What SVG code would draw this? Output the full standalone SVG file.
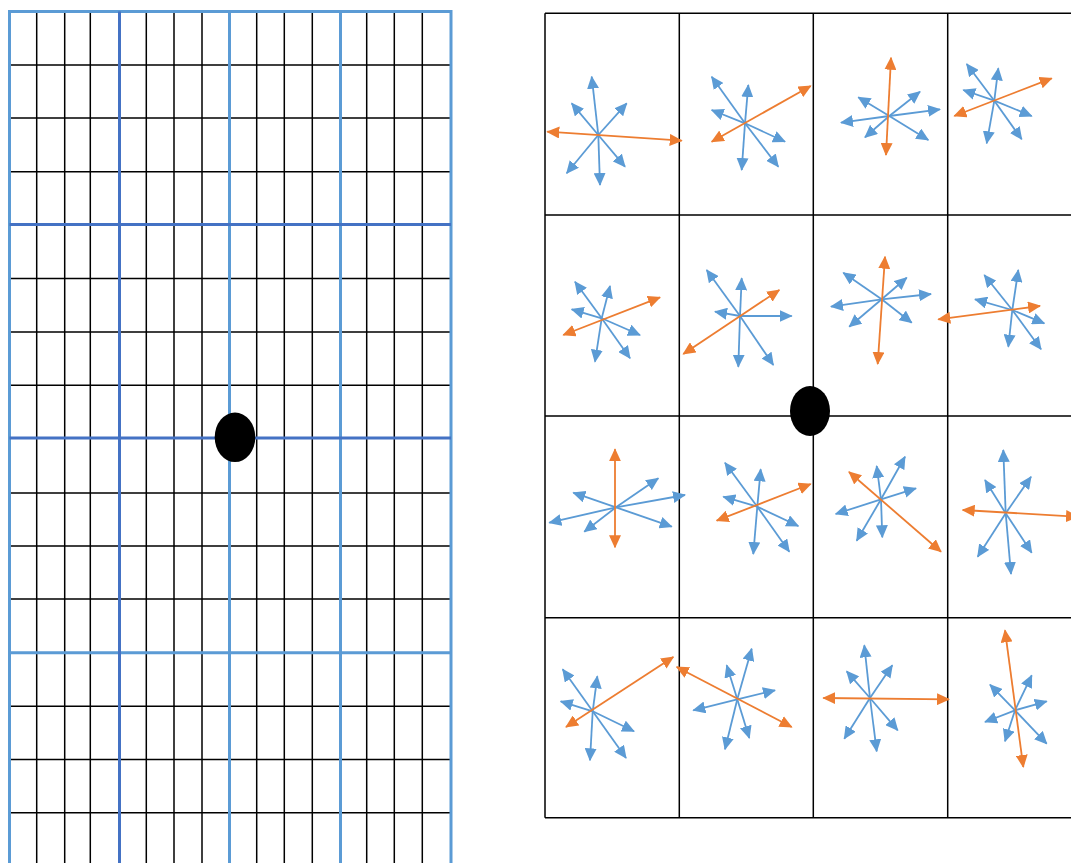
<svg xmlns="http://www.w3.org/2000/svg" width="1071" height="863" viewBox="0 0 1071 863">
<style>
.k{stroke:#000;stroke-width:1.5;fill:none}
.lb{stroke:#5B9BD5;stroke-width:3;fill:none}
.db{stroke:#4472C4;stroke-width:3;fill:none}
.b{stroke:#5B9BD5;stroke-width:1.8;marker-end:url(#ab)}
.o{stroke:#ED7D31;stroke-width:1.8;marker-start:url(#ao);marker-end:url(#ao)}
</style>
<defs>
<marker id="ab" viewBox="0 0 13 12" refX="12" refY="6" markerWidth="13" markerHeight="12" markerUnits="userSpaceOnUse" orient="auto-start-reverse"><path d="M0,0L13,6L0,12z" fill="#5B9BD5"/></marker>
<marker id="ao" viewBox="0 0 13 12" refX="12" refY="6" markerWidth="13" markerHeight="12" markerUnits="userSpaceOnUse" orient="auto-start-reverse"><path d="M0,0L13,6L0,12z" fill="#ED7D31"/></marker>
</defs>
<rect width="1071" height="863" fill="#fff"/>
<g id="left-grid">
<g class="k">
<path d="M36.7,11.5V863M64.7,11.5V863M90.3,11.5V863M146.3,11.5V863M174,11.5V863M202,11.5V863M256.7,11.5V863M284.3,11.5V863M312.3,11.5V863M366.7,11.5V863M394.3,11.5V863M422.3,11.5V863"/>
<path d="M9.5,65H451M9.5,118H451M9.5,171.7H451M9.5,278.6H451M9.5,332H451M9.5,385.2H451M9.5,493H451M9.5,546H451M9.5,599H451M9.5,706.3H451M9.5,759.6H451M9.5,812.8H451"/>
</g>
<path class="lb" d="M9.5,11.5H451M9.5,652.8H451M9.5,10V863M229.5,11.5V863M340.5,11.5V863M451,10V863"/>
<path class="db" d="M9.5,224.5H451M9.5,438H451M119.5,11.5V863"/>
<ellipse id="left-dot" cx="235" cy="437.3" rx="20.3" ry="24.8" fill="#000"/>
</g>
<g id="right-grid" class="k">
<path d="M545,13.3H1071M545,215H1071M545,416H1071M545,617.7H1071M545,817.7H1071M545,13.3V817.7M679.3,13.3V817.7M813.3,13.3V817.7M947.7,13.3V817.7"/>
</g>
<g id="connectors">
<g id="cell-0-0">
<line class="b" x1="598.3" y1="135" x2="591.7" y2="76.7"/>
<line class="b" x1="598.3" y1="135" x2="571.7" y2="103.3"/>
<line class="b" x1="598.3" y1="135" x2="626.7" y2="103.3"/>
<line class="b" x1="598.3" y1="135" x2="566.7" y2="173.3"/>
<line class="b" x1="598.3" y1="135" x2="600" y2="185"/>
<line class="b" x1="598.3" y1="135" x2="625" y2="166.7"/>
<line class="o" x1="547.3" y1="131.7" x2="681.7" y2="140.7"/>
</g>
<g id="cell-0-1">
<line class="b" x1="745" y1="123.3" x2="711.7" y2="76.7"/>
<line class="b" x1="745" y1="123.3" x2="748.3" y2="85"/>
<line class="b" x1="745" y1="123.3" x2="711.7" y2="110"/>
<line class="b" x1="745" y1="123.3" x2="785" y2="141.7"/>
<line class="b" x1="745" y1="123.3" x2="741.7" y2="170"/>
<line class="b" x1="745" y1="123.3" x2="778.3" y2="166.7"/>
<line class="o" x1="711.7" y1="141.7" x2="810.7" y2="86"/>
</g>
<g id="cell-0-2">
<line class="b" x1="889.3" y1="116" x2="858.3" y2="97.3"/>
<line class="b" x1="889.3" y1="116" x2="920" y2="91.7"/>
<line class="b" x1="889.3" y1="116" x2="940" y2="109.3"/>
<line class="b" x1="889.3" y1="116" x2="841" y2="122.7"/>
<line class="b" x1="889.3" y1="116" x2="865" y2="137.3"/>
<line class="b" x1="889.3" y1="116" x2="928.3" y2="140"/>
<line class="o" x1="891" y1="57.7" x2="886" y2="155"/>
</g>
<g id="cell-0-3">
<line class="b" x1="994.3" y1="100.7" x2="966.7" y2="64"/>
<line class="b" x1="994.3" y1="100.7" x2="998.3" y2="68.3"/>
<line class="b" x1="994.3" y1="100.7" x2="963.3" y2="90"/>
<line class="b" x1="994.3" y1="100.7" x2="1031.7" y2="116"/>
<line class="b" x1="994.3" y1="100.7" x2="986.7" y2="143.3"/>
<line class="b" x1="994.3" y1="100.7" x2="1021.7" y2="139.3"/>
<line class="o" x1="954.3" y1="116" x2="1051.7" y2="78.3"/>
</g>
<g id="cell-1-0">
<line class="b" x1="601.7" y1="318.3" x2="575" y2="281.7"/>
<line class="b" x1="601.7" y1="318.3" x2="610" y2="286"/>
<line class="b" x1="601.7" y1="318.3" x2="571.7" y2="309.3"/>
<line class="b" x1="601.7" y1="318.3" x2="640" y2="335"/>
<line class="b" x1="601.7" y1="318.3" x2="595" y2="361.7"/>
<line class="b" x1="601.7" y1="318.3" x2="630" y2="358.3"/>
<line class="o" x1="563.3" y1="335" x2="660" y2="297.3"/>
</g>
<g id="cell-1-1">
<line class="b" x1="740" y1="316" x2="706.7" y2="270"/>
<line class="b" x1="740" y1="316" x2="741.7" y2="278.3"/>
<line class="b" x1="740" y1="316" x2="715" y2="311.7"/>
<line class="b" x1="740" y1="316" x2="791.7" y2="316"/>
<line class="b" x1="740" y1="316" x2="738.3" y2="366.7"/>
<line class="b" x1="740" y1="316" x2="773.3" y2="365"/>
<line class="o" x1="683.3" y1="354" x2="779.3" y2="290"/>
</g>
<g id="cell-1-2">
<line class="b" x1="881.7" y1="299.3" x2="843.3" y2="272.7"/>
<line class="b" x1="881.7" y1="299.3" x2="906.7" y2="277.7"/>
<line class="b" x1="881.7" y1="299.3" x2="931" y2="294"/>
<line class="b" x1="881.7" y1="299.3" x2="831" y2="306.7"/>
<line class="b" x1="881.7" y1="299.3" x2="849.3" y2="326.7"/>
<line class="b" x1="881.7" y1="299.3" x2="911.7" y2="322.7"/>
<line class="o" x1="885" y1="256.7" x2="877.7" y2="364"/>
</g>
<g id="cell-1-3">
<line class="b" x1="1012.3" y1="310" x2="984.3" y2="275"/>
<line class="b" x1="1012.3" y1="310" x2="1018.3" y2="270"/>
<line class="b" x1="1012.3" y1="310" x2="975" y2="299.3"/>
<line class="b" x1="1012.3" y1="310" x2="1044.3" y2="323.3"/>
<line class="b" x1="1012.3" y1="310" x2="1008.3" y2="346.7"/>
<line class="b" x1="1012.3" y1="310" x2="1041" y2="349.3"/>
<line class="o" x1="938.3" y1="319.3" x2="1040" y2="306"/>
</g>
<g id="cell-2-0">
<line class="b" x1="616" y1="507.3" x2="573.3" y2="492.7"/>
<line class="b" x1="616" y1="507.3" x2="658.3" y2="478.3"/>
<line class="b" x1="616" y1="507.3" x2="685" y2="495"/>
<line class="b" x1="616" y1="507.3" x2="549.3" y2="522.7"/>
<line class="b" x1="616" y1="507.3" x2="584.3" y2="531.7"/>
<line class="b" x1="616" y1="507.3" x2="671.7" y2="526.7"/>
<line class="o" x1="615" y1="449.3" x2="615" y2="547.3"/>
</g>
<g id="cell-2-1">
<line class="b" x1="757.3" y1="506.7" x2="725" y2="462.7"/>
<line class="b" x1="757.3" y1="506.7" x2="760.7" y2="469.3"/>
<line class="b" x1="757.3" y1="506.7" x2="723.3" y2="496.7"/>
<line class="b" x1="757.3" y1="506.7" x2="798.3" y2="526"/>
<line class="b" x1="757.3" y1="506.7" x2="753.3" y2="554"/>
<line class="b" x1="757.3" y1="506.7" x2="789.3" y2="551.7"/>
<line class="o" x1="716.7" y1="520.7" x2="810.7" y2="484"/>
</g>
<g id="cell-2-2">
<line class="b" x1="881" y1="499.3" x2="876.7" y2="466"/>
<line class="b" x1="881" y1="499.3" x2="905" y2="456.7"/>
<line class="b" x1="881" y1="499.3" x2="916" y2="488.3"/>
<line class="b" x1="881" y1="499.3" x2="835.7" y2="514"/>
<line class="b" x1="881" y1="499.3" x2="856.7" y2="540.7"/>
<line class="b" x1="881" y1="499.3" x2="882.3" y2="537.3"/>
<line class="o" x1="849" y1="472" x2="941" y2="551.7"/>
</g>
<g id="cell-2-3">
<line class="b" x1="1005.7" y1="513.3" x2="1003.3" y2="450"/>
<line class="b" x1="1005.7" y1="513.3" x2="985" y2="480"/>
<line class="b" x1="1005.7" y1="513.3" x2="1031" y2="476.7"/>
<line class="b" x1="1005.7" y1="513.3" x2="977.7" y2="556.7"/>
<line class="b" x1="1005.7" y1="513.3" x2="1011" y2="574"/>
<line class="b" x1="1005.7" y1="513.3" x2="1031.7" y2="552.7"/>
<line class="o" x1="962.7" y1="510" x2="1078" y2="516.8"/>
</g>
<g id="cell-3-0">
<line class="b" x1="592.7" y1="711.3" x2="562.7" y2="669.3"/>
<line class="b" x1="592.7" y1="711.3" x2="597.3" y2="676.3"/>
<line class="b" x1="592.7" y1="711.3" x2="560.7" y2="701.3"/>
<line class="b" x1="592.7" y1="711.3" x2="634" y2="731.3"/>
<line class="b" x1="592.7" y1="711.3" x2="590" y2="760.3"/>
<line class="b" x1="592.7" y1="711.3" x2="626" y2="758"/>
<line class="o" x1="566" y1="727" x2="673.3" y2="657"/>
</g>
<g id="cell-3-1">
<line class="b" x1="737.3" y1="699.3" x2="751.7" y2="648.7"/>
<line class="b" x1="737.3" y1="699.3" x2="726.7" y2="665.3"/>
<line class="b" x1="737.3" y1="699.3" x2="775" y2="690.3"/>
<line class="b" x1="737.3" y1="699.3" x2="693.3" y2="710.3"/>
<line class="b" x1="737.3" y1="699.3" x2="725" y2="749.3"/>
<line class="b" x1="737.3" y1="699.3" x2="749.3" y2="738"/>
<line class="o" x1="676.7" y1="667" x2="791.7" y2="727"/>
</g>
<g id="cell-3-2">
<line class="b" x1="870" y1="698" x2="864.3" y2="645.3"/>
<line class="b" x1="870" y1="698" x2="846.7" y2="671.3"/>
<line class="b" x1="870" y1="698" x2="892.3" y2="665.3"/>
<line class="b" x1="870" y1="698" x2="844.3" y2="738.7"/>
<line class="b" x1="870" y1="698" x2="876.7" y2="751.3"/>
<line class="b" x1="870" y1="698" x2="897.7" y2="730.3"/>
<line class="o" x1="823.3" y1="698" x2="949" y2="699.3"/>
</g>
<g id="cell-3-3">
<line class="b" x1="1015" y1="710.3" x2="990" y2="684.7"/>
<line class="b" x1="1015" y1="710.3" x2="1031.7" y2="675.3"/>
<line class="b" x1="1015" y1="710.3" x2="1046.7" y2="701.3"/>
<line class="b" x1="1015" y1="710.3" x2="985" y2="722"/>
<line class="b" x1="1015" y1="710.3" x2="1005" y2="741.3"/>
<line class="b" x1="1015" y1="710.3" x2="1046.7" y2="743.7"/>
<line class="o" x1="1005" y1="630.3" x2="1023.3" y2="767"/>
</g>
</g>
<ellipse id="right-dot" cx="810" cy="411" rx="20" ry="25" fill="#000"/>
</svg>
